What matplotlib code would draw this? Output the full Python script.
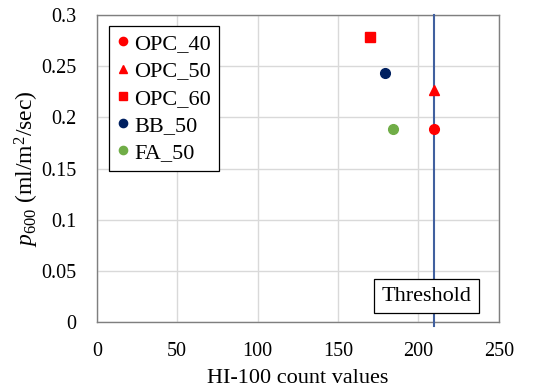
import numpy as np
import matplotlib
matplotlib.use('Agg')
import matplotlib.pyplot as plt

plt.rcParams['font.family'] = ['Liberation Serif', 'DejaVu Serif']
plt.rcParams['mathtext.fontset'] = 'custom'
plt.rcParams['mathtext.rm'] = 'Liberation Serif'
plt.rcParams['mathtext.it'] = 'Liberation Serif:italic'

# data
SERIES = ['OPC_40', 'OPC_50', 'OPC_60', 'BB_50', 'FA_50']
HI_COUNT = [210, 210, 170, 179, 184]
P600 = [0.189, 0.227, 0.278, 0.243, 0.189]
MARKERS = ['o', '^', 's', 'o', 'o']
COLORS = ['#ff0000', '#ff0000', '#ff0000', '#002060', '#70ad47']
THRESHOLD = 210

fig = plt.figure(figsize=(5.41, 3.91), dpi=100)
ax = fig.add_axes([0.179, 0.176, 0.743, 0.786])

for x, y, m, c, lab in zip(HI_COUNT, P600, MARKERS, COLORS, SERIES):
    ax.plot(x, y, linestyle='none', marker=m, color=c, markersize=7,
            label=lab, zorder=4)

# threshold line pokes a little below the x axis
ax.plot([THRESHOLD, THRESHOLD], [-0.004, 0.3], color='#41609f', lw=1.5,
        zorder=3, clip_on=False)
ax.text(205, 0.0254, 'Threshold', fontsize=16, ha='center',
        va='center', zorder=5,
        bbox=dict(boxstyle='square,pad=0.35', fc='white', ec='black', lw=0.9))

ax.set_xlim(0, 250)
ax.set_ylim(0, 0.3)
ax.set_xticks(np.arange(0, 251, 50))
ax.set_yticks(np.arange(0, 0.301, 0.05))
ax.set_yticklabels(['0', '0.05', '0.1', '0.15', '0.2', '0.25', '0.3'])
ax.tick_params(length=0, labelsize=14.5)
ax.tick_params(axis='y', pad=15)
ax.tick_params(axis='x', pad=14)
ax.grid(True, color='#d9d9d9', lw=1)
ax.set_axisbelow(True)
for s in ax.spines.values():
    s.set_color('#7f7f7f')
    s.set_linewidth(1)

ax.set_xlabel('HI-100 count values', fontsize=16, labelpad=6)
ax.set_ylabel(r'$p_{600}$ (ml/m$^2$/sec)', fontsize=17, labelpad=0)

leg = ax.legend(loc='upper left', bbox_to_anchor=(0.03, 0.964), fontsize=16,
                fancybox=False, framealpha=1, edgecolor='black',
                handlelength=0.6, handletextpad=0.2, labelspacing=0.3,
                borderpad=0.35, markerscale=0.85, borderaxespad=0)
leg.get_frame().set_linewidth(0.9)

fig.savefig('out.png', dpi=100)
